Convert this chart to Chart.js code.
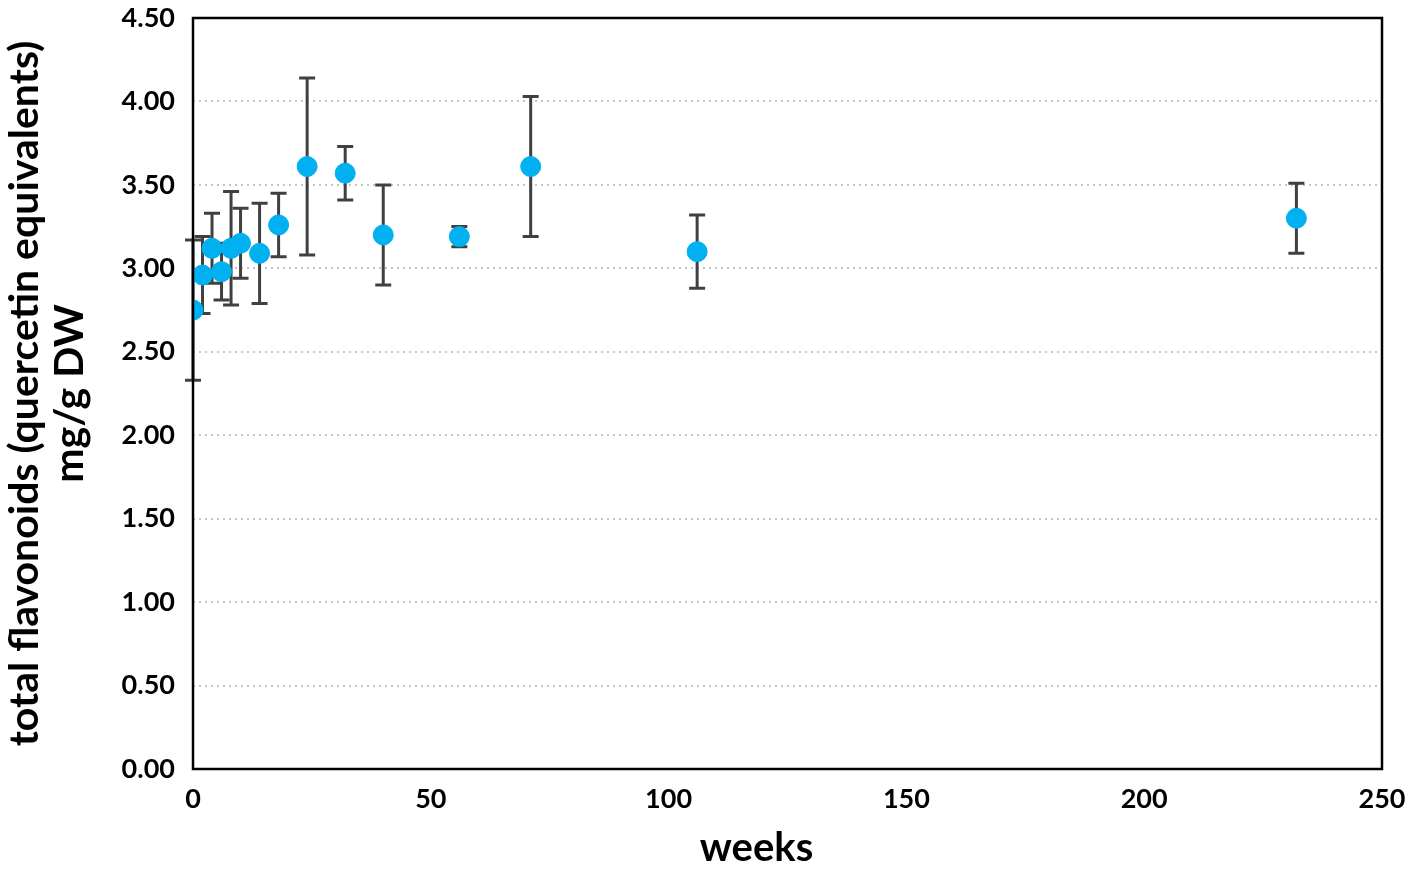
<!DOCTYPE html>
<html>
<head>
<meta charset="utf-8">
<script src="https://cdn.jsdelivr.net/npm/chart.js@4.4.1/dist/chart.umd.min.js"></script>
<style>
  html, body { margin: 0; padding: 0; background: #fff; }
  #wrap { width: 1406px; height: 869px; }
</style>
</head>
<body>
<div id="wrap"><canvas id="chart" width="1406" height="869"></canvas></div>
<script>
// weeks of storage
const weeks = [0, 2, 4, 6, 8, 10, 14, 18, 24, 32, 40, 56, 71, 106, 232];
// total flavonoids, mg/g DW
const flavonoids = [2.75, 2.96, 3.12, 2.98, 3.12, 3.15, 3.09, 3.26, 3.61, 3.57, 3.20, 3.19, 3.61, 3.10, 3.30];
// standard deviation
const sd = [0.42, 0.23, 0.21, 0.17, 0.34, 0.21, 0.30, 0.19, 0.53, 0.16, 0.30, 0.06, 0.42, 0.22, 0.21];

const yTicks = [0, 0.5, 1, 1.5, 2, 2.5, 3, 3.5, 4, 4.5];
const xTitle = 'weeks';
const yTitle = ['total flavonoids (quercetin equivalents)', 'mg/g DW'];

const font = "Lato";

const errorBars = {
  id: 'errorBars',
  beforeDatasetsDraw(chart) {
    const ctx = chart.ctx;
    const xs = chart.scales.x, ys = chart.scales.y;
    ctx.save();
    ctx.strokeStyle = '#404040';
    ctx.lineWidth = 3;
    weeks.forEach((w, i) => {
      const px = xs.getPixelForValue(w);
      const top = ys.getPixelForValue(flavonoids[i] + sd[i]);
      const bot = ys.getPixelForValue(flavonoids[i] - sd[i]);
      ctx.beginPath();
      ctx.moveTo(px, top); ctx.lineTo(px, bot);
      ctx.moveTo(px - 8, top); ctx.lineTo(px + 8, top);
      ctx.moveTo(px - 8, bot); ctx.lineTo(px + 8, bot);
      ctx.stroke();
    });
    ctx.restore();
  }
};

// frame round the plot area, and the x title (sits a bit left of centre in the original)
const frame = {
  id: 'frame',
  afterDraw(chart) {
    const a = chart.chartArea, ctx = chart.ctx;
    ctx.save();
    ctx.strokeStyle = '#000';
    ctx.lineWidth = 2.5;
    ctx.strokeRect(a.left, a.top, a.right - a.left, a.bottom - a.top);
    ctx.fillStyle = '#000';
    ctx.font = 'bold 40px ' + font;
    ctx.textAlign = 'center';
    ctx.textBaseline = 'alphabetic';
    ctx.fillText(xTitle, (a.left + a.right) / 2 - 31, 861);
    ctx.restore();
  }
};

new Chart(document.getElementById('chart'), {
  type: 'scatter',
  data: {
    datasets: [{
      data: weeks.map((w, i) => ({ x: w, y: flavonoids[i] })),
      backgroundColor: '#00B0F0',
      borderColor: '#00B0F0',
      pointRadius: 10,
      pointHoverRadius: 10
    }]
  },
  options: {
    responsive: false,
    animation: false,
    layout: { padding: { top: 18, right: 24, left: 0, bottom: 0 } },
    plugins: { legend: { display: false }, tooltip: { enabled: false } },
    scales: {
      x: {
        type: 'linear', min: 0, max: 250,
        grid: { display: false, drawTicks: false },
        border: { display: false },
        ticks: { stepSize: 50, padding: 14, maxRotation: 0, color: '#000', font: { family: font, size: 27, weight: 'bold' } },
        afterFit(s) { s.height = 100; s.paddingLeft = 0; s.paddingRight = 0; }
      },
      y: {
        type: 'linear', min: 0, max: 4.5,
        afterBuildTicks(s) { s.ticks = yTicks.map(v => ({ value: v })); },
        grid: { color: '#c4c4c4', lineWidth: 2, drawTicks: false },
        border: { display: false, dash: [2, 4] },
        ticks: { padding: 18, color: '#000', font: { family: font, size: 27, weight: 'bold' },
                 callback: v => v.toFixed(2) },
        title: { display: true, text: yTitle, color: '#000',
                 padding: { bottom: 0, top: 2 }, font: { family: font, size: 41, weight: 'bold', lineHeight: 1.1 } },
        afterFit(s) { s.width = 193; s.paddingTop = 0; s.paddingBottom = 0; }
      }
    }
  },
  plugins: [errorBars, frame]
});
</script>
</body>
</html>
